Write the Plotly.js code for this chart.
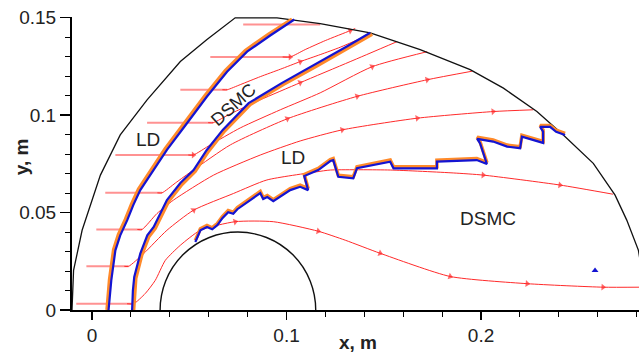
<!DOCTYPE html>
<html><head><meta charset="utf-8">
<script src="https://cdn.plot.ly/plotly-3.0.1.min.js"></script>
<style>html,body{margin:0;padding:0;background:#fff}#chart{width:639px;height:356px}</style>
</head><body><div id="chart"></div>
<script>
// Outer boundary of the domain
const outerX = [-0.0103,-0.0095,-0.0051,0.0043,0.0145,0.0283,0.0454,0.0591,0.0736,0.0951,0.1173,0.1430,0.1687,0.1944,0.2115,0.2287,0.2423,0.2577,0.2689,0.2749,0.2809,0.2860];
const outerY = [0.0000,0.0203,0.0409,0.0692,0.0898,0.1078,0.1275,0.1387,0.1499,0.1499,0.1469,0.1422,0.1336,0.1233,0.1138,0.1018,0.0898,0.0752,0.0589,0.0461,0.0306,0.0000];

// Body (semicircle): centre and radius
const bodyCx = 0.075, bodyR = 0.04;

// Outer (LD) shock position
const shock1X = [0.0085,0.0099,0.0120,0.0145,0.0181,0.0212,0.0248,0.0317,0.0385,0.0488,0.0591,0.0694,0.0797,0.0916,0.1040];
const shock1Y = [0.0000,0.0152,0.0306,0.0383,0.0461,0.0538,0.0615,0.0718,0.0821,0.0958,0.1095,0.1222,0.1325,0.1408,0.1490];
const shock1oX = [0.0077,0.0090,0.0111,0.0136,0.0172,0.0203,0.0239,0.0308,0.0376,0.0479,0.0582,0.0685,0.0788,0.0906,0.1028];
const shock1oY = [0.0000,0.0155,0.0310,0.0388,0.0466,0.0543,0.0620,0.0724,0.0827,0.0964,0.1101,0.1228,0.1331,0.1414,0.1492];

// Inner (DSMC) shock position
const shock2X = [0.0206,0.0210,0.0217,0.0248,0.0284,0.0317,0.0385,0.0454,0.0522,0.0590,0.0672,0.0805,0.0975,0.1145,0.1312,0.1430];
const shock2Y = [0.0000,0.0100,0.0169,0.0289,0.0383,0.0426,0.0564,0.0651,0.0718,0.0821,0.0924,0.1061,0.1164,0.1258,0.1353,0.1422];
const shock2oX = [0.0214,0.0218,0.0225,0.0256,0.0292,0.0325,0.0393,0.0462,0.0530,0.0598,0.0680,0.0813,0.0983,0.1153,0.1320,0.1440];
const shock2oY = [0.0000,0.0098,0.0163,0.0283,0.0376,0.0419,0.0557,0.0644,0.0711,0.0814,0.0917,0.1054,0.1157,0.1251,0.1346,0.1415];

// LD / DSMC interface
const ifX = [0.0531,0.0557,0.0591,0.0618,0.0644,0.0670,0.0700,0.0726,0.0747,0.0777,0.0813,0.0844,0.0865,0.0880,0.0901,0.0932,0.0968,0.1019,0.1070,0.1111,0.1091,0.1163,0.1225,0.1240,0.1266,0.1343,0.1362,0.1533,0.1550,0.1773,0.1773,0.1978,0.2030,0.1995,0.1980,0.2062,0.2134,0.2201,0.2210,0.2268,0.2319,0.2319,0.2304,0.2355,0.2386,0.2432];
const ifY = [0.0349,0.0409,0.0426,0.0414,0.0435,0.0471,0.0502,0.0494,0.0517,0.0538,0.0564,0.0584,0.0600,0.0569,0.0579,0.0558,0.0581,0.0615,0.0632,0.0615,0.0687,0.0718,0.0764,0.0769,0.0683,0.0675,0.0727,0.0761,0.0727,0.0727,0.0761,0.0769,0.0749,0.0855,0.0878,0.0864,0.0838,0.0830,0.0889,0.0872,0.0857,0.0915,0.0939,0.0939,0.0914,0.0898];
const ifoY = [0.0357,0.0417,0.0434,0.0422,0.0443,0.0479,0.0510,0.0502,0.0525,0.0546,0.0572,0.0592,0.0608,0.0577,0.0587,0.0566,0.0589,0.0623,0.0640,0.0623,0.0695,0.0726,0.0772,0.0777,0.0691,0.0683,0.0735,0.0769,0.0735,0.0735,0.0769,0.0777,0.0757,0.0863,0.0886,0.0872,0.0846,0.0838,0.0897,0.0880,0.0865,0.0923,0.0947,0.0947,0.0922,0.0906];
const blobX = [0.2586], blobY = [0.0203];

// Upstream (horizontal) parts of streamlines
const upY  = [0.1464,0.1298,0.1130,0.0961,0.0795,0.0601,0.0413,0.0224,0.0032];
const upX0 = [0.0777,0.0608,0.0454,0.0283,0.0120,0.0068,0.0022,-0.0029,-0.0081];
const upX1 = [0.1173,0.1019,0.0695,0.0623,0.0521,0.0360,0.0257,0.0188,0.0214];

// Downstream parts of streamlines
const s2x = [0.0980,0.1019,0.1096,0.1199,0.1327,0.1353];
const s2y = [0.1298,0.1298,0.1336,0.1382,0.1433,0.1444];
const s3x = [0.0670,0.0695,0.0762,0.0865,0.0968,0.1070,0.1173,0.1276,0.1415];
const s3y = [0.1130,0.1130,0.1156,0.1197,0.1235,0.1274,0.1310,0.1348,0.1408];
const s4x = [0.0597,0.0623,0.0711,0.0865,0.1070,0.1327,0.1569];
const s4y = [0.0961,0.0961,0.1006,0.1078,0.1166,0.1274,0.1377];
const s5x = [0.0495,0.0521,0.0608,0.0762,0.0968,0.1173,0.1440,0.1723];
const s5y = [0.0795,0.0795,0.0847,0.0934,0.1027,0.1114,0.1248,0.1325];
const s6x = [0.0336,0.0360,0.0428,0.0521,0.0711,0.1004,0.1363,0.1723,0.1954];
const s6y = [0.0601,0.0601,0.0651,0.0718,0.0847,0.0981,0.1096,0.1181,0.1225];
const s7x = [0.0233,0.0257,0.0334,0.0419,0.0625,0.0865,0.1070,0.1286,0.1672,0.2062,0.2268];
const s7y = [0.0413,0.0413,0.0495,0.0564,0.0692,0.0795,0.0867,0.0924,0.0984,0.1018,0.1027];
const s8x = [0.0166,0.0188,0.0265,0.0385,0.0522,0.0728,0.0899,0.1156,0.1225,0.1533,0.1857,0.2011,0.2406,0.2678];
const s8y = [0.0224,0.0224,0.0289,0.0409,0.0512,0.0598,0.0667,0.0709,0.0718,0.0718,0.0703,0.0692,0.0641,0.0594];
const s9x = [0.0180,0.0214,0.0274,0.0325,0.0377,0.0454,0.0557,0.0736,0.0932,0.1163,0.1302,0.1481,0.1841,0.2237,0.2627,0.2817];
const s9y = [0.0032,0.0032,0.0085,0.0152,0.0255,0.0332,0.0409,0.0453,0.0453,0.0404,0.0358,0.0291,0.0172,0.0135,0.0117,0.0117];
// indices of points carrying a direction arrow
const s2a=[1,4], s3a=[5], s4a=[4], s5a=[1,6], s6a=[5,6,7], s7a=[7,8,9], s8a=[4,11,12], s9a=[7,9,11,12,13,14];

const RED = '#ff2a2a', PINK = 'rgba(255,110,110,0.75)';
const traces = [];
for (let i = 0; i < upY.length; i++) {
  traces.push({x:[upX0[i], upX1[i]], y:[upY[i], upY[i]], mode:'lines', line:{color:PINK, width:2}, hoverinfo:'skip', showlegend:false});
}
const downs = [[s2x,s2y,s2a],[s3x,s3y,s3a],[s4x,s4y,s4a],[s5x,s5y,s5a],[s6x,s6y,s6a],[s7x,s7y,s7a],[s8x,s8y,s8a],[s9x,s9y,s9a]];
for (const [xs, ys, ar] of downs) {
  const sizes = xs.map((_, k) => ar.includes(k) ? 6 : 0);
  traces.push({x:xs, y:ys, mode:'lines+markers', line:{color:RED, width:1, shape:'spline', smoothing:0.6},
    marker:{symbol:'triangle-up', size:sizes, color:RED, angleref:'previous', line:{width:0}},
    hoverinfo:'skip', showlegend:false});
}
traces.push({x:outerX, y:outerY, mode:'lines', line:{color:'#111', width:1.3}, hoverinfo:'skip', showlegend:false});
const ORANGE = '#ff8a2a', BLUE = '#1414d2';
traces.push({x:shock1oX, y:shock1oY, mode:'lines', line:{color:ORANGE, width:3.5}, showlegend:false, hoverinfo:'skip'});
traces.push({x:shock1X, y:shock1Y, mode:'lines', line:{color:BLUE, width:2.2}, showlegend:false, hoverinfo:'skip'});
traces.push({x:shock2oX, y:shock2oY, mode:'lines', line:{color:ORANGE, width:3.5}, showlegend:false, hoverinfo:'skip'});
traces.push({x:shock2X, y:shock2Y, mode:'lines', line:{color:BLUE, width:2.2}, showlegend:false, hoverinfo:'skip'});
traces.push({x:ifX, y:ifoY, mode:'lines', line:{color:ORANGE, width:3.5}, showlegend:false, hoverinfo:'skip'});
traces.push({x:ifX, y:ifY, mode:'lines', line:{color:BLUE, width:2.2}, showlegend:false, hoverinfo:'skip'});
traces.push({x:blobX, y:blobY, mode:'markers', marker:{symbol:'triangle-up', size:6, color:BLUE}, showlegend:false, hoverinfo:'skip'});

const FONT = 'Liberation Sans, Arial, sans-serif';
const layout = {
  width:639, height:356,
  margin:{l:72, r:0, t:17, b:46, pad:0},
  paper_bgcolor:'#fff', plot_bgcolor:'#fff',
  showlegend:false,
  xaxis:{range:[-0.0103,0.2812], showline:true, linecolor:'#000', linewidth:1.5,
    ticks:'outside', ticklen:8, tickwidth:1.3, tickcolor:'#000', tick0:0, dtick:0.1,
    minor:{tick0:0, dtick:0.02, ticks:'outside', ticklen:5, tickwidth:1, tickcolor:'#000', showgrid:false},
    showgrid:false, zeroline:false, tickfont:{family:FONT, size:19, color:'#222'}},
  yaxis:{range:[0,0.1503], showline:true, linecolor:'#000', linewidth:2,
    ticks:'outside', ticklen:10, tickwidth:1.3, tickcolor:'#000', tick0:0, dtick:0.05,
    minor:{tick0:0, dtick:0.01, ticks:'outside', ticklen:5, tickwidth:1, tickcolor:'#000', showgrid:false},
    showgrid:false, zeroline:false, tickfont:{family:FONT, size:19, color:'#222'}},
  shapes:[{type:'circle', xref:'x', yref:'y', x0:bodyCx-bodyR, x1:bodyCx+bodyR, y0:-bodyR, y1:bodyR,
    line:{color:'#111', width:1.4}, layer:'above'}],
  annotations:[
    {text:'<b>x, m</b>', xref:'paper', yref:'paper', x:0.504, y:-0.155, xanchor:'center', yanchor:'bottom', showarrow:false, font:{family:FONT, size:19, color:'#222'}},
    {text:'<b>y, m</b>', xref:'paper', yref:'paper', x:-0.09, y:0.525, xanchor:'center', yanchor:'middle', textangle:-90, showarrow:false, font:{family:FONT, size:19, color:'#222'}},
    {text:'LD', xref:'x', yref:'y', x:0.0287, y:0.0873, showarrow:false, font:{family:FONT, size:19, color:'#222'}},
    {text:'DSMC', xref:'x', yref:'y', x:0.0725, y:0.1052, textangle:-42, showarrow:false, font:{family:FONT, size:18, color:'#222'}},
    {text:'LD', xref:'x', yref:'y', x:0.1032, y:0.0783, showarrow:false, font:{family:FONT, size:19, color:'#222'}},
    {text:'DSMC', xref:'x', yref:'y', x:0.2036, y:0.0468, showarrow:false, font:{family:FONT, size:19, color:'#222'}}
  ]
};
Plotly.newPlot('chart', traces, layout, {staticPlot:true, displayModeBar:false});
</script></body></html>
